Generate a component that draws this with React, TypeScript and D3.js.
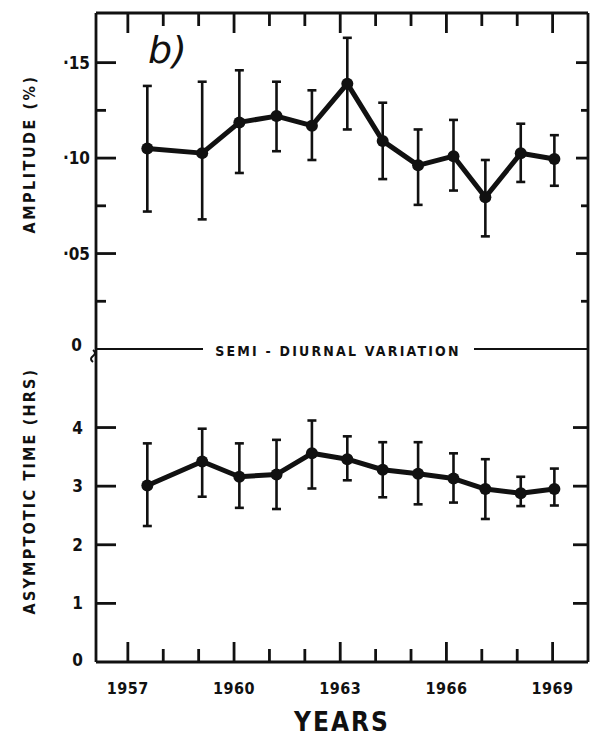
import * as d3 from "d3";

// year positions of the points (same for both panels)
const years = [1957.55, 1959.1, 1960.15, 1961.2, 1962.2, 1963.2, 1964.2, 1965.2, 1966.2, 1967.1, 1968.1, 1969.05];

// top panel: amplitude (%)
const amp = [0.105, 0.1026, 0.1187, 0.122, 0.117, 0.139, 0.109, 0.0962, 0.101, 0.0795, 0.1025, 0.0995];
const ampHi = [0.1378, 0.140, 0.146, 0.140, 0.1355, 0.163, 0.129, 0.115, 0.120, 0.099, 0.118, 0.112];
const ampLo = [0.072, 0.0679, 0.0922, 0.1036, 0.099, 0.115, 0.089, 0.0755, 0.083, 0.059, 0.0875, 0.0855];

// bottom panel: asymptotic time (hrs)
const hrs = [3.01, 3.42, 3.16, 3.2, 3.56, 3.46, 3.28, 3.21, 3.13, 2.95, 2.88, 2.95];
const hrsHi = [3.73, 3.98, 3.73, 3.79, 4.12, 3.85, 3.75, 3.75, 3.56, 3.46, 3.16, 3.30];
const hrsLo = [2.32, 2.82, 2.63, 2.61, 2.96, 3.1, 2.81, 2.69, 2.72, 2.44, 2.66, 2.67];

const ampTicks = [0, 0.05, 0.1, 0.15];
const ampTickLabels = ["0", "·05", "·10", "·15"];
const ampMinor = [0.025, 0.075, 0.125];
const hrsTicks = [0, 1, 2, 3, 4];
const yearTicks = d3.range(1957, 1970);
const yearLabels = [1957, 1960, 1963, 1966, 1969];

const W = 590;
const H = 736;
const left = 96;
const right = 588;
const top = 13;
const mid = 349;
const bottom = 662;
const font = "'DejaVu Sans Condensed', 'DejaVu Sans', sans-serif";

const x = d3.scaleLinear().domain([1956.1, 1970.0]).range([left, right]);
const yA = d3.scaleLinear().domain([0, 0.176]).range([mid, top]);
const yH = d3.scaleLinear().domain([0, 5.34]).range([bottom, mid]);

const Panel = ({ vals, hi, lo, y }: { vals: number[]; hi: number[]; lo: number[]; y: d3.ScaleLinear<number, number> }) => {
  const line = d3
    .line<number>()
    .x((_, i) => x(years[i]))
    .y((d) => y(d));
  return (
    <g>
      {vals.map((v, i) => {
        const cx = x(years[i]);
        return (
          <g key={i} stroke="#111" strokeWidth={2.6}>
            <line x1={cx} x2={cx} y1={y(hi[i])} y2={y(lo[i])} />
            <line x1={cx - 4.5} x2={cx + 4.5} y1={y(hi[i])} y2={y(hi[i])} />
            <line x1={cx - 4.5} x2={cx + 4.5} y1={y(lo[i])} y2={y(lo[i])} />
          </g>
        );
      })}
      <path d={line(vals) || ""} fill="none" stroke="#111" strokeWidth={5} strokeLinejoin="round" />
      {vals.map((v, i) => (
        <circle key={i} cx={x(years[i])} cy={y(v)} r={6} fill="#111" />
      ))}
    </g>
  );
};

const App = () => {
  return (
    <svg width={W} height={H} style={{ position: "absolute", left: 0, top: 0, background: "#fff" }}>
      <g stroke="#111" strokeWidth={2.8} fill="none">
        {/* frame */}
        <line x1={left} x2={right} y1={top} y2={top} />
        <line x1={left} x2={left} y1={top} y2={bottom} />
        <line x1={right} x2={right} y1={top} y2={bottom} />
        <line x1={left} x2={right} y1={bottom} y2={bottom} />
        {/* divider interrupted by title */}
        <line x1={left} x2={203} y1={mid} y2={mid} strokeWidth={2} />
        <line x1={474} x2={right} y1={mid} y2={mid} strokeWidth={2} />
        {/* x ticks */}
        {yearTicks.map((t) => {
          const len = yearLabels.includes(t) ? 20 : 13;
          return (
            <g key={t}>
              <line x1={x(t)} x2={x(t)} y1={bottom} y2={bottom - len} />
              <line x1={x(t)} x2={x(t)} y1={top} y2={top + len} />
            </g>
          );
        })}
        {/* amplitude ticks */}
        {ampTicks.slice(1).map((t) => (
          <g key={t}>
            <line x1={left} x2={left + 20} y1={yA(t)} y2={yA(t)} />
            <line x1={right} x2={right - 12} y1={yA(t)} y2={yA(t)} />
          </g>
        ))}
        {ampMinor.map((t) => (
          <g key={t}>
            <line x1={left} x2={left + 10} y1={yA(t)} y2={yA(t)} />
            <line x1={right} x2={right - 7} y1={yA(t)} y2={yA(t)} />
          </g>
        ))}
        {/* hours ticks */}
        {hrsTicks.slice(1).map((t) => (
          <g key={t}>
            <line x1={left} x2={left + 20} y1={yH(t)} y2={yH(t)} />
            <line x1={right} x2={right - 15} y1={yH(t)} y2={yH(t)} />
          </g>
        ))}
        {/* axis break mark */}
        <path d={`M${left - 3},${mid + 1} q4,3 0,6 q-4,3 0,6`} strokeWidth={2} />
      </g>

      <Panel vals={amp} hi={ampHi} lo={ampLo} y={yA} />
      <Panel vals={hrs} hi={hrsHi} lo={hrsLo} y={yH} />

      <g fontFamily={font} fontWeight="bold" fill="#111">
        {ampTicks.map((t, i) => (
          <text key={t} x={i === 0 ? 82 : 90} y={yA(t) - (i === 0 ? 4 : 0)} fontSize={17} textAnchor="end" dominantBaseline="central">
            {ampTickLabels[i]}
          </text>
        ))}
        {hrsTicks.map((t) => (
          <text key={t} x={83} y={yH(t) - (t === 0 ? 2 : 0)} fontSize={17} textAnchor="end" dominantBaseline="central">
            {t}
          </text>
        ))}
        {yearLabels.map((t) => (
          <text key={t} x={x(t)} y={688} fontSize={16} textAnchor="middle" dominantBaseline="central" letterSpacing={0.5}>
            {t}
          </text>
        ))}
        <text x={342} y={722} fontSize={26} textAnchor="middle" dominantBaseline="central" letterSpacing={2}>
          YEARS
        </text>
        <text x={338} y={351} fontSize={14} textAnchor="middle" dominantBaseline="central" letterSpacing={2.2}>
          SEMI - DIURNAL  VARIATION
        </text>
        <text transform="translate(29,154) rotate(-90)" fontSize={16} textAnchor="middle" dominantBaseline="central" letterSpacing={2.5}>
          AMPLITUDE (%)
        </text>
        <text transform="translate(29,491) rotate(-90)" fontSize={16} textAnchor="middle" dominantBaseline="central" letterSpacing={2.2}>
          ASYMPTOTIC TIME (HRS)
        </text>
        <text x={148} y={63} fontSize={38} fontWeight="normal" fontStyle="italic" fontFamily="'DejaVu Sans', sans-serif">
          b)
        </text>
      </g>
    </svg>
  );
};

export default App;
